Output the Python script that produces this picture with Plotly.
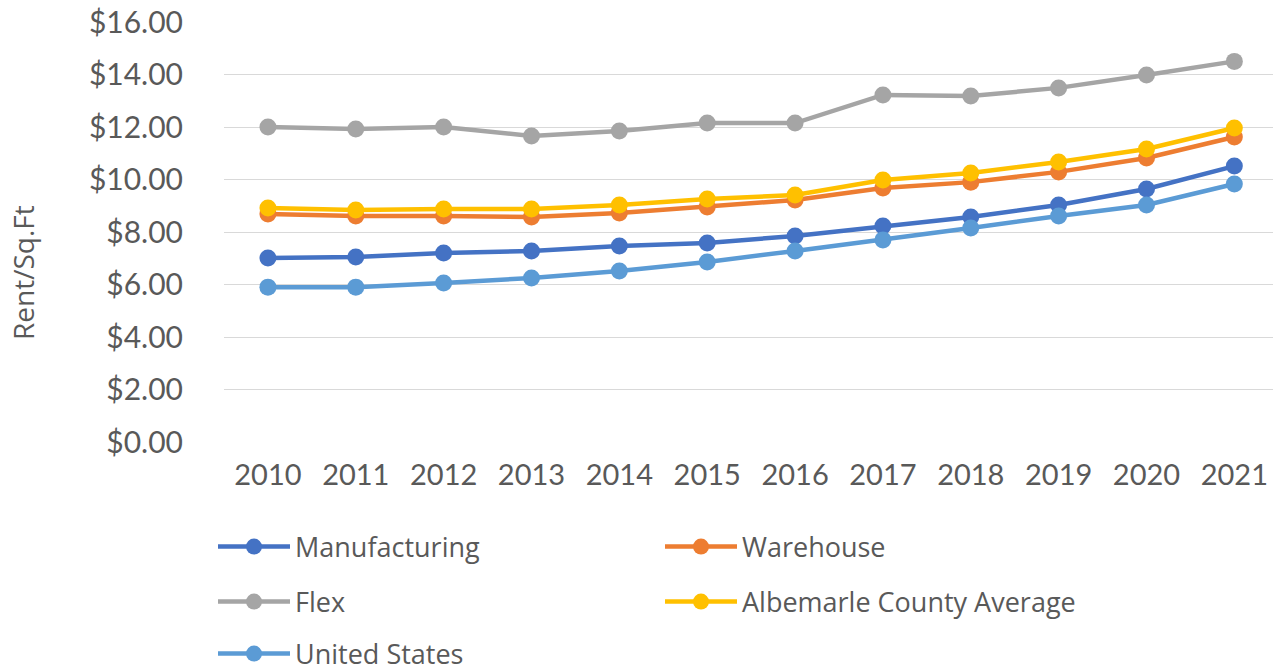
import plotly.graph_objects as go

years = ["2010", "2011", "2012", "2013", "2014", "2015", "2016", "2017", "2018", "2019", "2020", "2021"]
manufacturing = [7.01, 7.05, 7.20, 7.28, 7.47, 7.58, 7.85, 8.23, 8.57, 9.03, 9.64, 10.51]
warehouse = [8.69, 8.61, 8.61, 8.57, 8.72, 8.95, 9.22, 9.68, 9.90, 10.29, 10.82, 11.62]
flex = [12.00, 11.92, 12.00, 11.66, 11.85, 12.15, 12.15, 13.22, 13.18, 13.49, 13.98, 14.50]
albemarle = [8.91, 8.84, 8.88, 8.88, 9.03, 9.26, 9.41, 9.98, 10.25, 10.67, 11.16, 11.96]
united_states = [5.90, 5.90, 6.06, 6.25, 6.51, 6.86, 7.28, 7.70, 8.15, 8.61, 9.03, 9.83]
y_ticks = [0, 2, 4, 6, 8, 10, 12, 14, 16]

series = [
    ("Manufacturing", manufacturing, "#4472C4", "legend"),
    ("Warehouse", warehouse, "#ED7D31", "legend"),
    ("Flex", flex, "#A5A5A5", "legend2"),
    ("Albemarle County Average", albemarle, "#FFC000", "legend2"),
    ("United States", united_states, "#5B9BD5", "legend3"),
]

fig = go.Figure()
for name, vals, color, leg in series:
    fig.add_trace(go.Scatter(
        x=years, y=vals, name=name, mode="lines+markers",
        line=dict(color=color, width=4.5),
        marker=dict(color=color, size=17),
        legend=leg,
    ))

font_main = "Lato, 'Open Sans', sans-serif"
font_leg = "'Open Sans', Lato, sans-serif"
txt = "#595959"

W, H = 1273, 672
L, T, B = 224, 22, 230
PW = W - L
PH = H - T - B

def leg(ycenter_px):
    return dict(
        orientation="h", xref="container", yref="container",
        x=213 / W, xanchor="left",
        y=1 - ycenter_px / H, yanchor="middle",
        entrywidth=360, entrywidthmode="pixels",
        font=dict(family=font_leg, size=27, color=txt),
        bgcolor="rgba(0,0,0,0)", itemwidth=72,
    )

fig.update_layout(
    width=W, height=H,
    margin=dict(l=L, r=0, t=T, b=B, autoexpand=False),
    paper_bgcolor="white", plot_bgcolor="white",
    showlegend=True,
    legend=leg(547), legend2=leg(602), legend3=leg(654),
    xaxis=dict(
        type="category", range=[-0.5, 11.44],
        showgrid=False, showline=False, zeroline=False,
        tickfont=dict(family=font_main, size=29, color=txt),
        ticklabelstandoff=13, automargin=False, ticklabeloverflow="allow",
    ),
    yaxis=dict(
        range=[0, 16], tickvals=y_ticks,
        tickformat="$.2f",
        showgrid=True, gridcolor="#D9D9D9", gridwidth=1.3,
        zeroline=False, showline=False,
        tickfont=dict(family=font_main, size=30, color=txt),
        ticklabelstandoff=40, automargin=False, ticklabeloverflow="allow",
    ),
    annotations=[dict(
        text="Rent/Sq.Ft", xref="paper", yref="paper",
        x=(23 - L) / PW, y=(T + PH - 273) / PH,
        xanchor="center", yanchor="middle", textangle=-90,
        showarrow=False, font=dict(family=font_leg, size=28, color=txt),
    )],
)

fig.write_html("out.html", config={"displayModeBar": False},
               post_script="document.body.style.margin='0px';")
